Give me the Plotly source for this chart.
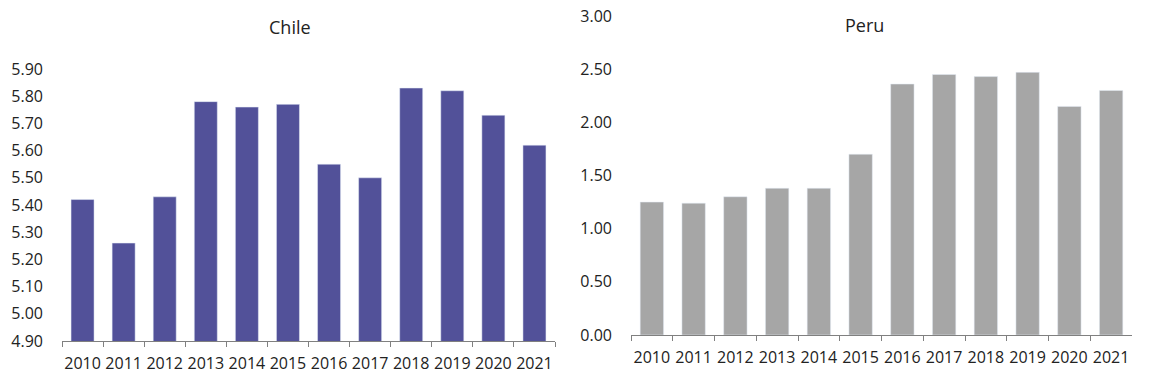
import plotly.graph_objects as go

years = ["2010", "2011", "2012", "2013", "2014", "2015", "2016", "2017", "2018", "2019", "2020", "2021"]
chile = [5.42, 5.26, 5.43, 5.78, 5.76, 5.77, 5.55, 5.50, 5.83, 5.82, 5.73, 5.62]
peru = [1.25, 1.24, 1.30, 1.38, 1.38, 1.70, 2.36, 2.45, 2.43, 2.47, 2.15, 2.30]

chile_ticks = [4.9, 5.0, 5.1, 5.2, 5.3, 5.4, 5.5, 5.6, 5.7, 5.8, 5.9]
peru_ticks = [0.0, 0.5, 1.0, 1.5, 2.0, 2.5, 3.0]

W, H = 1159, 386
FONT = "Open Sans"
AX = "#808080"
TXT = "#222222"


def px_x(p):
    return p / W


def px_y(p):
    return 1 - p / H


fig = go.Figure()
fig.add_trace(go.Bar(x=years, y=chile, marker_color="#525199", xaxis="x", yaxis="y",
                     showlegend=False, hoverinfo="x+y"))
fig.add_trace(go.Bar(x=years, y=peru, marker_color="#A6A6A6", xaxis="x2", yaxis="y2",
                     showlegend=False, hoverinfo="x+y"))


def xa(domain, anchor):
    return dict(domain=domain, anchor=anchor, type="category", showline=True, linecolor=AX,
                linewidth=1, ticks="outside", tickson="boundaries", ticklen=5, tickcolor=AX,
                tickangle=0, automargin=False, showgrid=False, ticklabelstandoff=8,
                ticklabeloverflow="allow",
                tickfont=dict(size=16, color=TXT, family=FONT))


def ya(domain, anchor, rng, tv):
    return dict(domain=domain, anchor=anchor, range=rng, tickvals=tv, tickformat=".2f",
                showline=False, showgrid=False, zeroline=False, ticks="", automargin=False,
                ticklabelstandoff=18, ticklabeloverflow="allow",
                tickfont=dict(size=16, color=TXT, family=FONT))


fig.update_layout(
    width=W, height=H, margin=dict(l=0, r=0, t=0, b=0),
    paper_bgcolor="white", plot_bgcolor="white", bargap=0.44,
    font=dict(family=FONT),
    xaxis=xa([px_x(62), px_x(555)], "y"),
    yaxis=ya([px_y(341), px_y(69)], "x", [4.9, 5.9], chile_ticks),
    xaxis2=xa([px_x(631), px_x(1132)], "y2"),
    yaxis2=ya([px_y(335), px_y(16)], "x2", [0, 3], peru_ticks),
    annotations=[
        dict(text="Chile", x=px_x(290), y=px_y(27), xref="paper", yref="paper",
             xanchor="center", yanchor="middle",
             showarrow=False, font=dict(size=18, color=TXT, family=FONT)),
        dict(text="Peru", x=px_x(864), y=px_y(25), xref="paper", yref="paper",
             xanchor="center", yanchor="middle",
             showarrow=False, font=dict(size=18, color=TXT, family=FONT)),
    ],
)

fig.write_html("out.html", config={"displayModeBar": False},
               post_script="document.body.style.margin='0';")
